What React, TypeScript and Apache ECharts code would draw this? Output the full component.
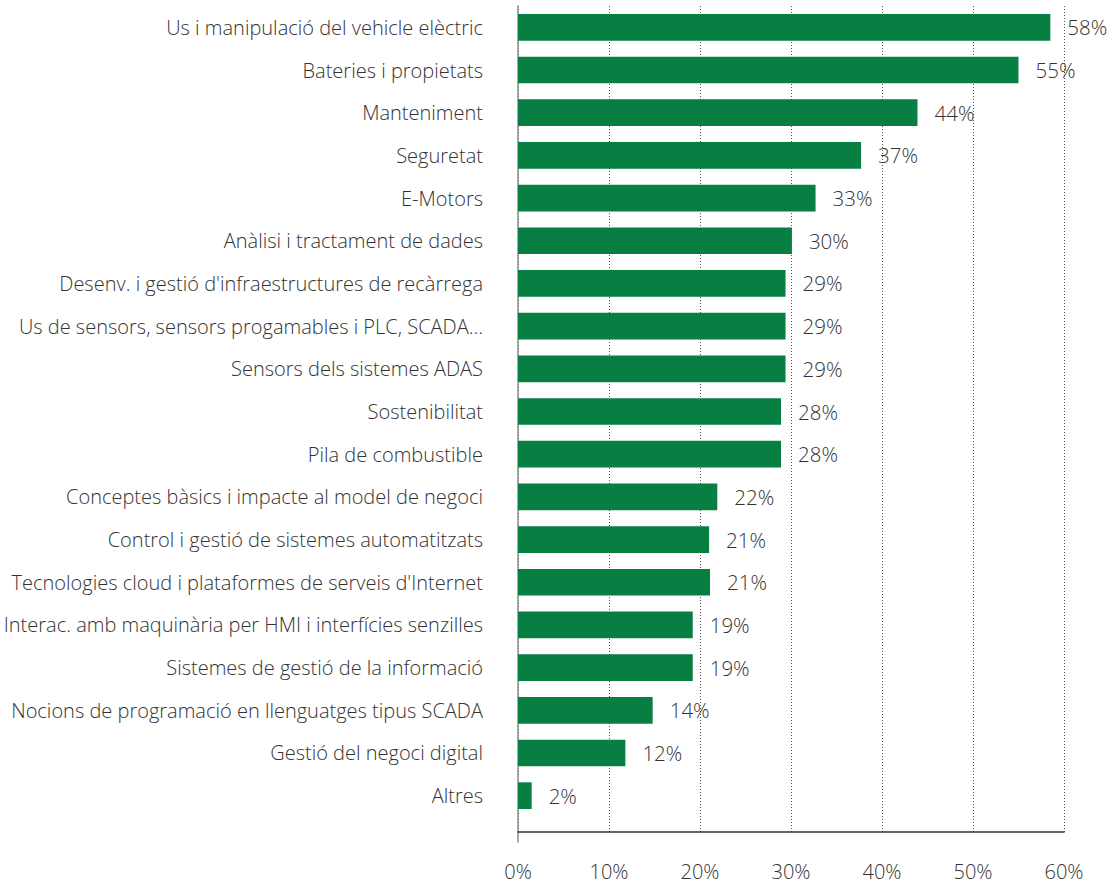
import React, { useEffect, useRef } from "react";
import * as echarts from "echarts";

const categories = [
  "Us i manipulació del vehicle elèctric",
  "Bateries i propietats",
  "Manteniment",
  "Seguretat",
  "E-Motors",
  "Anàlisi i tractament de dades",
  "Desenv. i gestió d'infraestructures de recàrrega",
  "Us de sensors, sensors progamables i PLC, SCADA...",
  "Sensors dels sistemes ADAS",
  "Sostenibilitat",
  "Pila de combustible",
  "Conceptes bàsics i impacte al model de negoci",
  "Control i gestió de sistemes automatitzats",
  "Tecnologies cloud i plataformes de serveis d'Internet",
  "Interac. amb maquinària per HMI i interfícies senzilles",
  "Sistemes de gestió de la informació",
  "Nocions de programació en llenguatges tipus SCADA",
  "Gestió del negoci digital",
  "Altres",
];

const values = [58.5, 55.0, 43.9, 37.7, 32.7, 30.1, 29.4, 29.4, 29.4, 28.9, 28.9, 21.9, 21.0, 21.1, 19.2, 19.2, 14.8, 11.8, 1.5];
const valueLabels = ["58%", "55%", "44%", "37%", "33%", "30%", "29%", "29%", "29%", "28%", "28%", "22%", "21%", "21%", "19%", "19%", "14%", "12%", "2%"];

const axisMin = 0;
const axisMax = 60;
const axisStep = 10;

const FONT = "'Open Sans', sans-serif";
const TEXT = "#333333";
const WEIGHT = 300;

export default function App() {
  const ref = useRef<HTMLDivElement>(null);
  useEffect(() => {
    if (!ref.current) return;
    const chart = echarts.init(ref.current, null, { renderer: "svg" });
    chart.setOption({
      animation: false,
      backgroundColor: "#ffffff",
      textStyle: { fontFamily: FONT },
      grid: [
        { left: 518, right: 56, top: 6, height: 811, containLabel: false },
        { left: 518, right: 56, top: 6, height: 826, containLabel: false },
        { left: 518, right: 56, top: 6, height: 836, containLabel: false },
      ],
      xAxis: [
        { gridIndex: 0, type: "value", min: axisMin, max: axisMax, interval: axisStep, show: false },
        {
          gridIndex: 1,
          type: "value",
          min: axisMin,
          max: axisMax,
          interval: axisStep,
          axisLine: { show: true, lineStyle: { color: "#333333", width: 1.5 } },
          axisTick: { show: false },
          splitLine: { show: true, lineStyle: { color: "#555555", type: [1, 2], width: 1 } },
          axisLabel: {
            formatter: "{value}%",
            margin: 30,
            fontSize: 20,
            lineHeight: 18,
            color: TEXT,
            fontWeight: WEIGHT,
            fontFamily: FONT,
          },
        },
        { gridIndex: 2, type: "value", min: axisMin, max: axisMax, interval: axisStep, show: false },
      ],
      yAxis: [
        {
          gridIndex: 0,
          type: "category",
          inverse: true,
          data: categories,
          axisLine: { show: false },
          axisTick: { show: false },
          axisLabel: { margin: 35, fontSize: 20, color: TEXT, fontWeight: WEIGHT, fontFamily: FONT },
        },
        {
          gridIndex: 1,
          type: "value",
          min: 0,
          max: 1,
          show: false,
        },
        {
          gridIndex: 2,
          type: "value",
          min: 0,
          max: 1,
          axisLine: { show: true, lineStyle: { color: "#8c8c8c", width: 1.5 } },
          axisTick: { show: false },
          axisLabel: { show: false },
          splitLine: { show: false },
        },
      ],
      series: [
        {
          type: "bar",
          xAxisIndex: 0,
          yAxisIndex: 0,
          data: values,
          barWidth: "62.5%",
          itemStyle: { color: "#077f42" },
          z: 3,
          label: {
            show: true,
            position: "right",
            distance: 17,
            fontSize: 20.5,
            color: TEXT,
            fontWeight: WEIGHT,
            fontFamily: FONT,
            formatter: (p: any) => valueLabels[p.dataIndex],
          },
        },
      ],
    });
    return () => chart.dispose();
  }, []);
  return <div ref={ref} style={{ position: "absolute", left: 0, top: 0, width: 1120, height: 885 }} />;
}
